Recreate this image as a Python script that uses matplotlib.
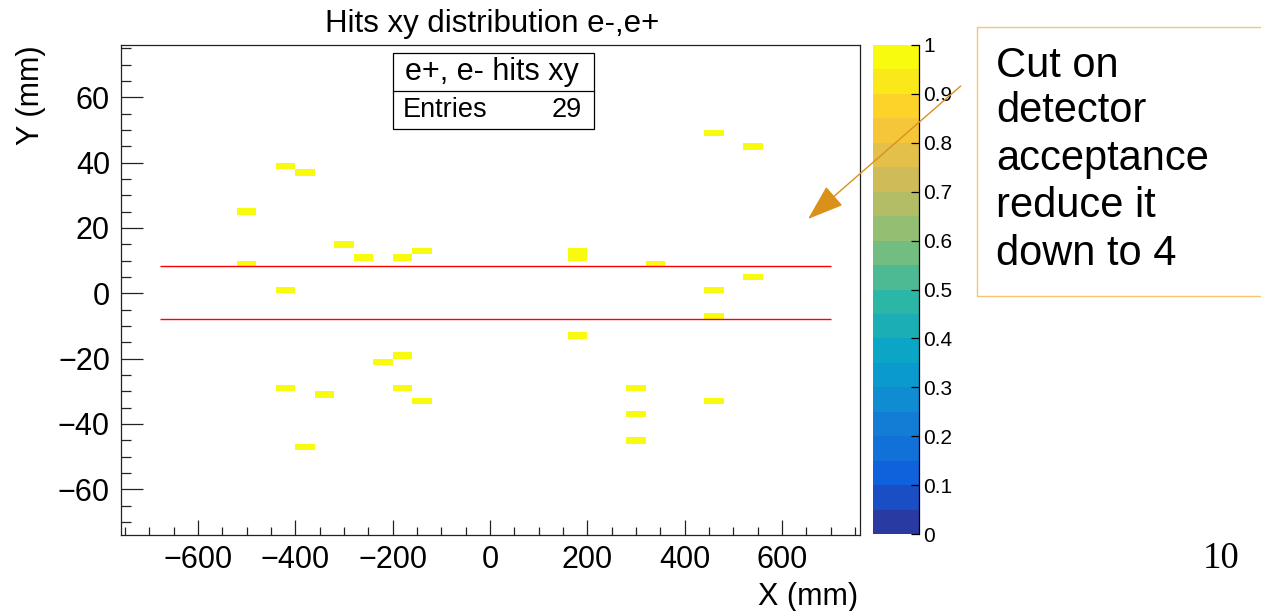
import numpy as np
import matplotlib
matplotlib.use('Agg')
import matplotlib.pyplot as plt
from matplotlib.colors import LinearSegmentedColormap, ListedColormap, Normalize
from matplotlib.patches import Rectangle, FancyArrowPatch
from matplotlib.lines import Line2D

plt.rcParams['font.family'] = ['Liberation Sans', 'DejaVu Sans']

# ---------------- data ----------------
hit_x = [-500, -500, -420, -380, -300, -260, -180, -140, -420, -220, -180, -420,
         -340, -180, -140, -380,
         180, 180, 340, 460, 540, 540, 460, 460, 180, 300, 300, 300, 460]
hit_y = [25, 9, 39, 37, 15, 11, 11, 13, 1, -21, -19, -29,
         -31, -29, -33, -47,
         11, 13, 9, 49, 45, 5, 1, -7, -13, -29, -37, -45, -33]
x_edges = np.arange(-760, 761, 40)
y_edges = np.arange(-74, 77, 2)
cut_y = [8.4, -7.9]
cut_x_range = [-678, 700]
x_ticks = [-600, -400, -200, 0, 200, 400, 600]
y_ticks = [-60, -40, -20, 0, 20, 40, 60]
z_ticks = [0, 0.1, 0.2, 0.3, 0.4, 0.5, 0.6, 0.7, 0.8, 0.9, 1.0]
z_tick_labels = ['0', '0.1', '0.2', '0.3', '0.4', '0.5', '0.6', '0.7', '0.8', '0.9', '1']
title = "Hits xy distribution e-,e+"
stats_name = "e+, e- hits xy"
n_entries = len(hit_x)
note_lines = ["Cut on", "detector", "acceptance", "reduce it", "down to 4"]
page_number = "10"

# ROOT kBird palette, 20 contour levels
bird_stops = [0, .125, .25, .375, .5, .625, .75, .875, 1]
bird_r = [0.2082, 0.0592, 0.0780, 0.0232, 0.1802, 0.5301, 0.8186, 0.9956, 0.9764]
bird_g = [0.1664, 0.3599, 0.5041, 0.6419, 0.7178, 0.7492, 0.7328, 0.7862, 0.9832]
bird_b = [0.5293, 0.8684, 0.8385, 0.7914, 0.6425, 0.4662, 0.3499, 0.1968, 0.0539]
bird = LinearSegmentedColormap.from_list(
    'bird', [(s, (r, g, b)) for s, r, g, b in zip(bird_stops, bird_r, bird_g, bird_b)])
cmap = ListedColormap([bird(0.04 + 0.96 * i / 19) for i in range(20)])

# ---------------- figure ----------------
W, H = 1261, 611
fig = plt.figure(figsize=(W / 100, H / 100), dpi=100)


def fx(px):
    return px / W


def fy(py):
    return 1 - py / H


ax = fig.add_axes([fx(121), fy(535), (860 - 121) / W, (535 - 45) / H])
counts, _, _ = np.histogram2d(hit_x, hit_y, bins=[x_edges, y_edges])
masked = np.ma.masked_equal(counts.T, 0)
mesh = ax.pcolormesh(x_edges, y_edges, masked, cmap=cmap,
                     norm=Normalize(0, counts.max()), edgecolors='none',
                     antialiased=False)

ax.hlines(cut_y, cut_x_range[0], cut_x_range[1], colors='red', linewidth=1)

ax.set_xlim(-758, 760)
ax.set_ylim(-74, 76)
ax.set_xticks(x_ticks)
ax.set_xticklabels(['\u2212' + str(-v) if v < 0 else str(v) for v in x_ticks])
ax.set_yticks(y_ticks)
ax.set_yticklabels(['\u2212' + str(-v) if v < 0 else str(v) for v in y_ticks])
ax.set_xticks(np.arange(-750, 751, 50), minor=True)
ax.set_yticks(np.arange(-70, 76, 5), minor=True)
ax.tick_params(which='both', direction='in', top=False, right=False,
               labelsize=22, width=0.9, color='#222222')
ax.tick_params(axis='x', which='major', length=10.8, pad=7)
ax.tick_params(axis='x', which='minor', length=5.8)
ax.tick_params(axis='y', which='major', length=15.6, pad=8)
ax.tick_params(axis='y', which='minor', length=7.2)
for sp in ax.spines.values():
    sp.set_linewidth(0.9)
    sp.set_color('#222222')

# colorbar
cax = fig.add_axes([fx(873), fy(534), 46 / W, (534 - 45) / H])
cb = fig.colorbar(mesh, cax=cax, ticks=z_ticks)
cb.outline.set_visible(False)
cb.set_ticklabels(z_tick_labels)
cax.tick_params(direction='in', length=5.8, width=0.9, labelsize=15, pad=3)
cax.plot([1, 1], [0, 1], transform=cax.transAxes, color='black',
         linewidth=0.9, clip_on=False)

# title and axis titles
fig.text(fx(492), fy(32), title, ha='center', va='baseline', fontsize=22.5)
fig.text(fx(31), fy(45), "Y (mm)", rotation=90, ha='center', va='top', fontsize=22)
fig.text(fx(858), fy(597), "X (mm)", ha='right', va='center', fontsize=22)

# stats box
fig.add_artist(Rectangle((fx(392.7), fy(128.7)), (594.3 - 392.7) / W,
                         (128.7 - 52.7) / H, transform=fig.transFigure,
                         facecolor='white', edgecolor='black', linewidth=0.9,
                         zorder=5))
fig.add_artist(Line2D([fx(392.7), fx(594.3)], [fy(91), fy(91)],
                      transform=fig.transFigure, color='black', linewidth=0.9,
                      zorder=6))
fig.text(fx(491.5), fy(72), stats_name, ha='center', va='center', fontsize=22,
         zorder=7)
fig.text(fx(403), fy(110), "Entries", ha='left', va='center', fontsize=19.5,
         zorder=7)
fig.text(fx(582), fy(110), str(n_entries), ha='right', va='center', fontsize=19.5,
         zorder=7)

# annotation box
fig.add_artist(Rectangle((fx(977), fy(296)), (1275 - 977) / W, (296 - 27) / H,
                         transform=fig.transFigure, facecolor='none',
                         edgecolor='#f9c46b', linewidth=1, zorder=5))
baselines = [76.7, 121.7, 170, 216.7, 265]
for line, b in zip(note_lines, baselines):
    fig.text(fx(996), fy(b), line, ha='left', va='baseline', fontsize=30)

fig.add_artist(FancyArrowPatch((fx(960.7), fy(86)), (fx(808), fy(219)),
                               transform=fig.transFigure,
                               arrowstyle='-|>,head_length=2.3,head_width=0.8',
                               mutation_scale=10, color='#da911a', linewidth=1,
                               shrinkA=0, shrinkB=0, zorder=8))

fig.text(fx(1203), fy(568), page_number, family=['Liberation Serif'],
         ha='left', va='baseline', fontsize=26.5)

fig.savefig('out.png', dpi=100)
